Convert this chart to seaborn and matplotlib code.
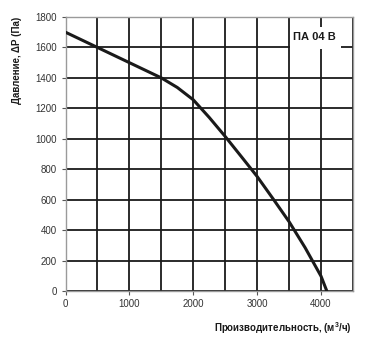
import matplotlib
matplotlib.use("Agg")
import matplotlib.pyplot as plt
import matplotlib.patches as mpatches
import seaborn as sns
import pandas as pd

# Data
flow = [0, 500, 1000, 1500, 1750, 2000, 2250, 2500, 2750, 3000, 3250, 3500, 3750, 4000, 4090]
pressure = [1700, 1600, 1500, 1400, 1337, 1256, 1140, 1015, 884, 752, 605, 455, 285, 97, 0]
x_ticks = [0, 1000, 2000, 3000, 4000]
y_ticks = [0, 200, 400, 600, 800, 1000, 1200, 1400, 1600, 1800]
model_label = "ПА 04 В"
x_label = "Производительность, (м$^3$/ч)"
y_label = "Давление, ΔP (Па)"

df = pd.DataFrame({"flow": flow, "pressure": pressure})

sns.set_style("white")
plt.rcParams["font.family"] = ["Liberation Sans", "DejaVu Sans"]
plt.rcParams["mathtext.fontset"] = "custom"
plt.rcParams["mathtext.rm"] = "Liberation Sans:bold"
plt.rcParams["mathtext.it"] = "Liberation Sans:bold"
plt.rcParams["mathtext.bf"] = "Liberation Sans:bold"

fig = plt.figure(figsize=(3.77, 3.45), dpi=100)
ax = fig.add_axes([65.5 / 377, 1 - 291 / 345, (353 - 65.5) / 377, (291 - 17) / 345])

ax.set_xlim(0, 4500)
ax.set_ylim(0, 1800)
ax.set_xticks(x_ticks)
ax.set_xticks([500 * i for i in range(10)], minor=True)
ax.set_yticks(y_ticks)
ax.grid(True, which="both", color="#1a1a1a", linewidth=1.3, zorder=1)
ax.set_axisbelow(True)
ax.tick_params(axis="both", which="major", labelsize=7, length=3, width=0.8,
               color="#555555", labelcolor="#333333", pad=3, direction="out")
ax.tick_params(axis="x", which="minor", length=0)
ax.tick_params(left=True, bottom=True)
for s in ax.spines.values():
    s.set_color("#9a9a9a")
    s.set_linewidth(1.0)

sns.lineplot(data=df, x="flow", y="pressure", ax=ax, color="#1a1a1a",
             linewidth=2.2, zorder=5)

ax.add_patch(mpatches.Rectangle((3510, 1592), 800, 143, facecolor="white",
                                edgecolor="none", zorder=3))
ax.text(3900, 1668, model_label, ha="center", va="center", fontsize=8,
        fontweight="bold", color="#1a1a1a", zorder=4)

ax.set_xlabel("")
ax.set_ylabel("")
fig.text(352 / 377, 1 - 328 / 345, x_label, ha="right", va="center",
         fontsize=7, fontweight="bold", color="#1a1a1a")
fig.text(17 / 377, 1 - 60 / 345, y_label, ha="center", va="center",
         rotation=90, fontsize=7, fontweight="bold", color="#1a1a1a")

fig.savefig("out.png", dpi=100)
